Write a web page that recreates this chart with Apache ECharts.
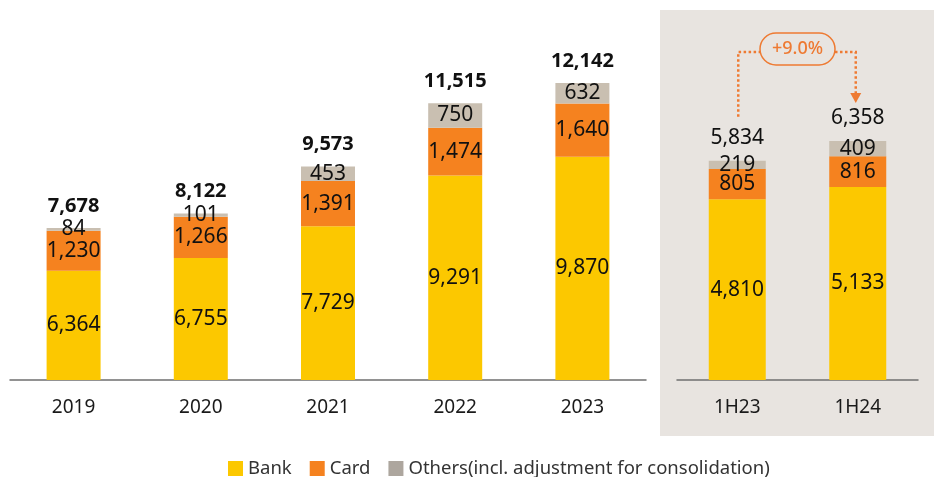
<!DOCTYPE html>
<html><head><meta charset="utf-8">
<script src="https://cdn.jsdelivr.net/npm/echarts@6/dist/echarts.min.js"></script>
<style>html,body{margin:0;padding:0;background:#fff}#c{width:934px;height:477px}</style>
</head><body><div id="c"></div>
<script>
const years = ['2019','2020','2021','2022','2023'];
const halves = ['1H23','1H24'];
const bankYear = [6364,6755,7729,9291,9870];
const cardYear = [1230,1266,1391,1474,1640];
const otherYear = [84,101,453,750,632];
const bankHalf = [4810,5133];
const cardHalf = [805,816];
const otherHalf = [219,409];
const growthLabel = '+9.0%';

const FONT = 'Noto Sans';
const C_BANK = '#FCC800', C_CARD = '#F5821F', C_OTHER = '#C9BFB1', C_OTHER_LEG = '#ADA69E';
const ORANGE = '#EE7A32';
const sum3 = (a,b,c) => a.map((v,i)=>v+b[i]+c[i]);
const totYear = sum3(bankYear,cardYear,otherYear);
const totHalf = sum3(bankHalf,cardHalf,otherHalf);
const fmt = v => v.toLocaleString('en-US');

const segLabel = {show:true, position:'inside', color:'#111', fontFamily:FONT, fontSize:21, formatter:p=>fmt(p.value)};
function seg(name, data, color, gi, stack){
  return {name, type:'bar', stack, xAxisIndex:gi, yAxisIndex:gi, data, barWidth: gi===0?54:57,
    itemStyle:{color}, label:segLabel, emphasis:{disabled:true}};
}
function totals(data, gi, bold){
  return {name:'total'+gi, type:'scatter', xAxisIndex:gi, yAxisIndex:gi, data, symbolSize:0.01,
    itemStyle:{color:'#111', opacity:1}, silent:true, z:5,
    label:{show:true, position:'top', distance:12, color:'#111', opacity:1, fontFamily:FONT, fontSize:bold?20:21,
      fontWeight:bold?'bold':'normal', formatter:p=>fmt(p.value)}};
}
const axisX = (gi, data) => ({type:'category', gridIndex:gi, data,
  axisLine:{lineStyle:{color:'#6f6f6f', width:1.5}}, axisTick:{show:false},
  axisLabel:{color:'#1a1a1a', fontFamily:FONT, fontSize:19, margin:18}});
const axisY = (gi, min, max) => ({type:'value', gridIndex:gi, min, max, show:false, splitLine:{show:false}});

const chart = echarts.init(document.getElementById('c'));
chart.setOption({
  animation:false,
  grid:[{left:10, top:55, width:636, height:325}, {left:677, top:4, width:241, height:376}],
  xAxis:[axisX(0, years), axisX(1, halves)],
  yAxis:[axisY(0,3000,13000), axisY(1,0,10000)],
  legend:{left:223, top:454, itemWidth:15, itemHeight:15, itemGap:18, icon:'rect',
    textStyle:{color:'#333', fontFamily:FONT, fontSize:18.5},
    data:[{name:'Bank'},{name:'Card'},{name:'Others(incl. adjustment for consolidation)', itemStyle:{color:C_OTHER_LEG}}]},
  series:[
    seg('Bank', bankYear, C_BANK, 0, 'y'),
    seg('Card', cardYear, C_CARD, 0, 'y'),
    seg('Others(incl. adjustment for consolidation)', otherYear, C_OTHER, 0, 'y'),
    seg('Bank', bankHalf, C_BANK, 1, 'h'),
    seg('Card', cardHalf, C_CARD, 1, 'h'),
    seg('Others(incl. adjustment for consolidation)', otherHalf, C_OTHER, 1, 'h'),
    totals(totYear, 0, true),
    totals(totHalf, 1, false)
  ]
});

// growth annotation
const p1 = chart.convertToPixel({gridIndex:1}, [halves[0], totHalf[0]]);
const p2 = chart.convertToPixel({gridIndex:1}, [halves[1], totHalf[1]]);
const lineY = 52, pillW = 75, pillH = 32;
const midX = (p1[0]+p2[0])/2;
const x1 = p1[0]+1, x2 = p2[0]-2;
const tipY = p2[1]-38;
const dash = {stroke:ORANGE, lineWidth:2.5, lineDash:[2.5,2.5], fill:null};
chart.setOption({graphic:[
  {type:'rect', shape:{x:660,y:10,width:274,height:426}, style:{fill:'#E8E4E0'}, z:-10},
  {type:'polyline', shape:{points:[[x1,p1[1]-44],[x1,lineY],[midX-pillW/2,lineY]]}, style:dash, z:10},
  {type:'polyline', shape:{points:[[midX+pillW/2,lineY],[x2,lineY],[x2,tipY-9]]}, style:dash, z:10},
  {type:'polygon', shape:{points:[[x2-5.5,tipY-10],[x2+5.5,tipY-10],[x2,tipY]]}, style:{fill:ORANGE}, z:10},
  {type:'rect', shape:{x:midX-pillW/2, y:lineY-3-pillH/2, width:pillW, height:pillH, r:16},
    style:{fill:'#E8E4E0', stroke:ORANGE, lineWidth:1.5}, z:10},
  {type:'text', x:midX, y:lineY-3, style:{text:growthLabel, fill:ORANGE, font:'500 18px "Noto Sans"', align:'center', verticalAlign:'middle'}, z:11}
]});
</script></body></html>
